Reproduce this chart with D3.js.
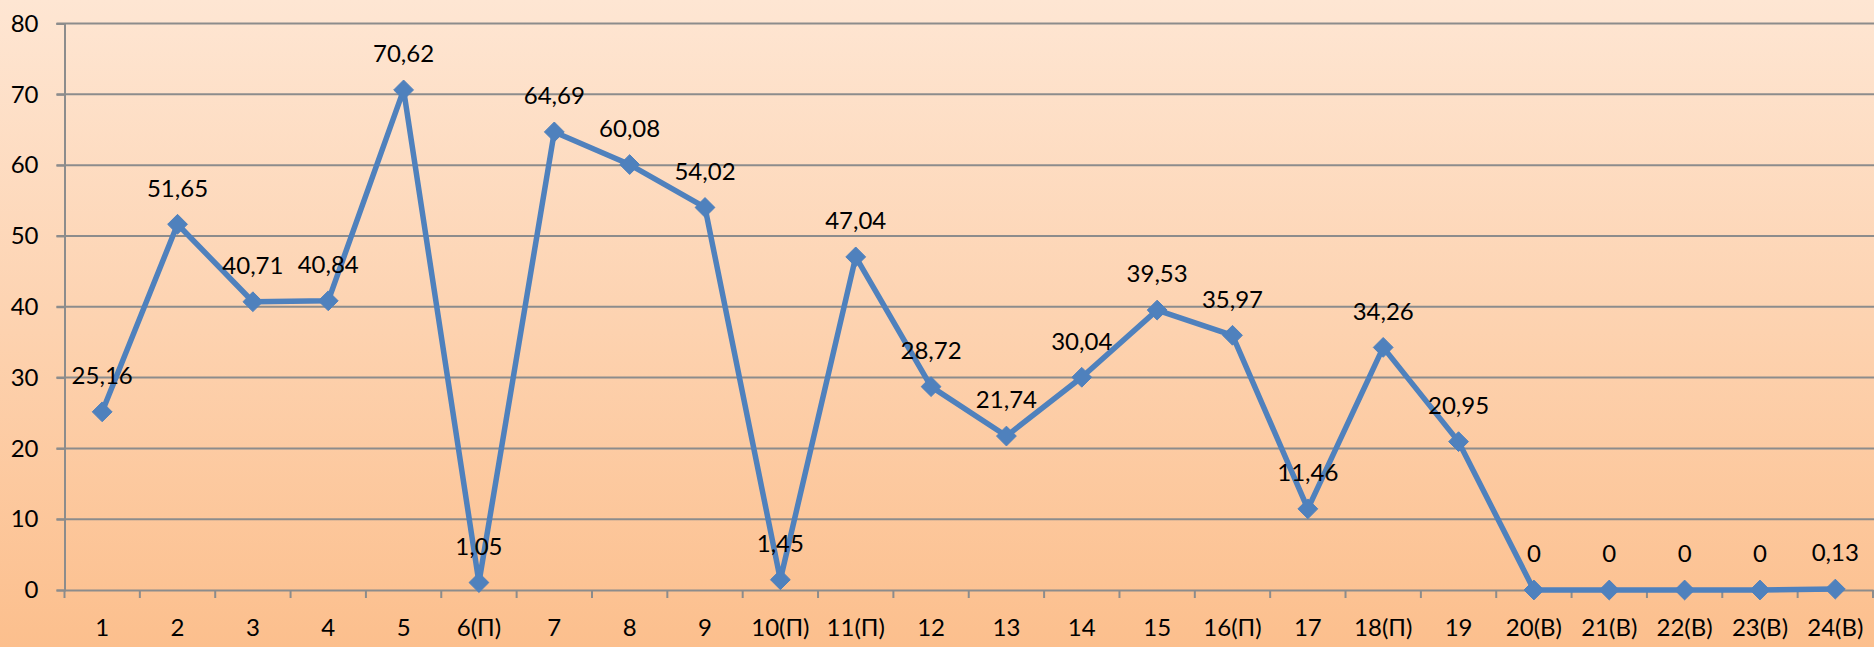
<!DOCTYPE html>
<html>
<head>
<meta charset="utf-8">
<script src="https://cdn.jsdelivr.net/npm/d3@7"></script>
<style>
  html, body { margin: 0; padding: 0; }
  svg { display: block; font-family: Lato, "Open Sans", sans-serif; }
</style>
</head>
<body>
<svg id="chart"></svg>
<script>
const width = 1874;
const height = 647;

// categories (hours) and values
const categories = ["1", "2", "3", "4", "5", "6(П)", "7", "8", "9", "10(П)", "11(П)", "12",
  "13", "14", "15", "16(П)", "17", "18(П)", "19", "20(В)", "21(В)", "22(В)", "23(В)", "24(В)"];
const values = [25.16, 51.65, 40.71, 40.84, 70.62, 1.05, 64.69, 60.08, 54.02, 1.45, 47.04, 28.72,
  21.74, 30.04, 39.53, 35.97, 11.46, 34.26, 20.95, 0, 0, 0, 0, 0.13];
const yTicks = [0, 10, 20, 30, 40, 50, 60, 70, 80];

const margin = { top: 23.5, right: 1, bottom: 57, left: 64.5 };
const fontSize = 24;

const svg = d3.select("#chart")
  .attr("width", width)
  .attr("height", height);

// background gradient
const defs = svg.append("defs");
const grad = defs.append("linearGradient")
  .attr("id", "bg")
  .attr("x1", 0).attr("y1", 0).attr("x2", 0).attr("y2", 1);
grad.append("stop").attr("offset", "0%").attr("stop-color", "#fee6d3");
grad.append("stop").attr("offset", "100%").attr("stop-color", "#fcbf8d");

svg.append("rect")
  .attr("width", width)
  .attr("height", height)
  .attr("fill", "url(#bg)");

const x = d3.scaleBand()
  .domain(categories)
  .range([margin.left, width - margin.right]);

const y = d3.scaleLinear()
  .domain([0, 80])
  .range([height - margin.bottom, margin.top]);

// gridlines
svg.append("g")
  .selectAll("line")
  .data(yTicks.filter(d => d > 0))
  .join("line")
  .attr("x1", margin.left - 8)
  .attr("x2", width)
  .attr("y1", d => y(d))
  .attr("y2", d => y(d))
  .attr("stroke", "#8c8c8c")
  .attr("stroke-width", 2);

// y axis
const yAxis = svg.append("g")
  .attr("transform", `translate(${margin.left},0)`)
  .call(d3.axisLeft(y).tickValues(yTicks).tickSize(8).tickPadding(18));
yAxis.select(".domain").attr("stroke", "#8c8c8c").attr("stroke-width", 2);
yAxis.selectAll(".tick line").attr("stroke", "#8c8c8c").attr("stroke-width", 2);
yAxis.selectAll("text")
  .attr("font-size", fontSize)
  .attr("fill", "#000")
  .attr("font-family", "Lato, sans-serif");

// x axis
const xAxis = svg.append("g")
  .attr("transform", `translate(0,${y(0)})`)
  .call(d3.axisBottom(x).tickSize(0).tickPadding(29));
xAxis.select(".domain").attr("stroke", "#8c8c8c").attr("stroke-width", 2);
xAxis.selectAll("text")
  .attr("font-size", fontSize)
  .attr("fill", "#000")
  .attr("font-family", "Lato, sans-serif");

// category boundary ticks
const bounds = categories.map(c => x(c)).concat([x(categories[categories.length - 1]) + x.bandwidth()]);
svg.append("g")
  .selectAll("line")
  .data(bounds)
  .join("line")
  .attr("x1", d => d)
  .attr("x2", d => d)
  .attr("y1", y(0))
  .attr("y2", y(0) + 8)
  .attr("stroke", "#8c8c8c")
  .attr("stroke-width", 2);

const cx = (d, i) => x(categories[i]) + x.bandwidth() / 2;

// line
const line = d3.line()
  .x((d, i) => cx(d, i))
  .y(d => y(d));

svg.append("path")
  .datum(values)
  .attr("d", line)
  .attr("fill", "none")
  .attr("stroke", "#4f81bd")
  .attr("stroke-width", 5.5)
  .attr("stroke-linejoin", "round");

// diamond markers
svg.append("g")
  .selectAll("path")
  .data(values)
  .join("path")
  .attr("d", d3.symbol(d3.symbolDiamond2, 250))
  .attr("transform", (d, i) => `translate(${cx(d, i)},${y(d)})`)
  .attr("fill", "#4f81bd")
  .attr("stroke", "#4f81bd")
  .attr("stroke-width", 1);

// data labels
const fmt = v => String(v).replace(".", ",");
svg.append("g")
  .selectAll("text")
  .data(values)
  .join("text")
  .attr("x", (d, i) => cx(d, i))
  .attr("y", d => y(d) - 36)
  .attr("dy", "0.35em")
  .attr("text-anchor", "middle")
  .attr("font-size", fontSize)
  .attr("fill", "#000")
  .text(fmt);
</script>
</body>
</html>
